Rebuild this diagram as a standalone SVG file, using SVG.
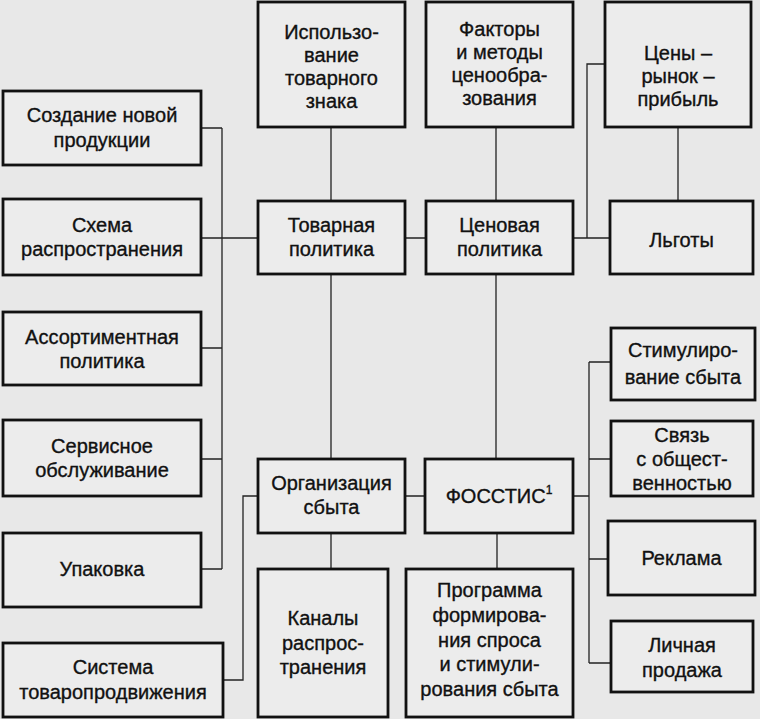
<svg xmlns="http://www.w3.org/2000/svg" width="760" height="719" viewBox="0 0 760 719">
<style>
.bg{fill:#e8e8e8}
.box{fill:#ececec;stroke:#111;stroke-width:2.8}
.c{fill:none;stroke:#222;stroke-width:1.3}
text{font-family:"Liberation Sans",Arial,sans-serif;font-size:20px;fill:#111;stroke:#111;stroke-width:0.35;text-anchor:middle}
</style>
<rect class="bg" x="0" y="0" width="760" height="719"/>
<g id="connectors">
<path class="c" d="M222,128 V569 M201,128 H222 M201,238 H258 M201,348 H222 M201,459 H222 M201,569 H222"/>
<path class="c" d="M223,680 H243 V496 H258"/>
<path class="c" d="M331,127 V201 M331,274 V459 M331,533 V569"/>
<path class="c" d="M405,238 H426 M496,127 V201 M496,274 V459 M497,533 V569 M405,496 H425"/>
<path class="c" d="M573,238 H610 M587,238 V64 H605 M678,127 V201"/>
<path class="c" d="M573,496 H589 M589,362 V663 M589,362 H611 M589,459 H611 M589,559 H608 M589,663 H611"/>
</g>
<g id="n-ispolzovanie"><rect class="box" x="258" y="2" width="147" height="125"/>
<text x="331.5" y="39">Использо-</text><text x="331.5" y="62">вание</text><text x="331.5" y="85">товарного</text><text x="331.5" y="108">знака</text></g>
<g id="n-faktory"><rect class="box" x="426" y="2" width="147" height="125"/>
<text x="499.5" y="36">Факторы</text><text x="499.5" y="59">и методы</text><text x="499.5" y="82">ценообра-</text><text x="499.5" y="105">зования</text></g>
<g id="n-ceny"><rect class="box" x="605" y="2" width="146" height="125"/>
<text x="678" y="60">Цены –</text><text x="678" y="83">рынок –</text><text x="678" y="106">прибыль</text></g>
<g id="n-sozdanie"><rect class="box" x="3" y="91" width="198" height="74"/>
<text x="102" y="122">Создание новой</text><text x="102" y="147">продукции</text></g>
<g id="n-shema"><rect class="box" x="3" y="199" width="198" height="76"/>
<text x="102" y="232">Схема</text><text x="102" y="256">распространения</text></g>
<g id="n-tovarnaya"><rect class="box" x="258" y="201" width="147" height="73"/>
<text x="331.5" y="232">Товарная</text><text x="331.5" y="256">политика</text></g>
<g id="n-cenovaya"><rect class="box" x="426" y="201" width="147" height="73"/>
<text x="499.5" y="232">Ценовая</text><text x="499.5" y="256">политика</text></g>
<g id="n-lgoty"><rect class="box" x="610" y="201" width="143" height="73"/>
<text x="681.5" y="247">Льготы</text></g>
<g id="n-assortiment"><rect class="box" x="3" y="312" width="198" height="73"/>
<text x="102" y="344">Ассортиментная</text><text x="102" y="368">политика</text></g>
<g id="n-stimul"><rect class="box" x="611" y="328" width="144" height="72"/>
<text x="683" y="357">Стимулиро-</text><text x="683" y="384">вание сбыта</text></g>
<g id="n-servis"><rect class="box" x="3" y="420" width="198" height="76"/>
<text x="102" y="453">Сервисное</text><text x="102" y="477">обслуживание</text></g>
<g id="n-svyaz"><rect class="box" x="611" y="421" width="142" height="75"/>
<text x="682" y="442">Связь</text><text x="682" y="466">с общест-</text><text x="682" y="490">венностью</text></g>
<g id="n-organizaciya"><rect class="box" x="258" y="459" width="147" height="74"/>
<text x="331.5" y="490">Организация</text><text x="331.5" y="514">сбыта</text></g>
<g id="n-fosstis"><rect class="box" x="425" y="459" width="148" height="74"/>
<text x="499" y="503">ФОССТИС<tspan font-size="12" dy="-9">1</tspan></text></g>
<g id="n-reklama"><rect class="box" x="608" y="521" width="147" height="74"/>
<text x="681.5" y="565">Реклама</text></g>
<g id="n-upakovka"><rect class="box" x="3" y="533" width="198" height="74"/>
<text x="102" y="576">Упаковка</text></g>
<g id="n-kanaly"><rect class="box" x="258" y="569" width="130" height="148"/>
<text x="323" y="625">Каналы</text><text x="323" y="650">распрос-</text><text x="323" y="674">транения</text></g>
<g id="n-programma"><rect class="box" x="406" y="569" width="167" height="148"/>
<text x="489.5" y="597">Программа</text><text x="489.5" y="622">формирова-</text><text x="489.5" y="647">ния спроса</text><text x="489.5" y="671">и стимули-</text><text x="489.5" y="696">рования сбыта</text></g>
<g id="n-lichnaya"><rect class="box" x="611" y="621" width="142" height="71"/>
<text x="682" y="652">Личная</text><text x="682" y="677">продажа</text></g>
<g id="n-sistema"><rect class="box" x="3" y="643" width="220" height="74"/>
<text x="113" y="674">Система</text><text x="113" y="699">товаропродвижения</text></g>
</svg>
